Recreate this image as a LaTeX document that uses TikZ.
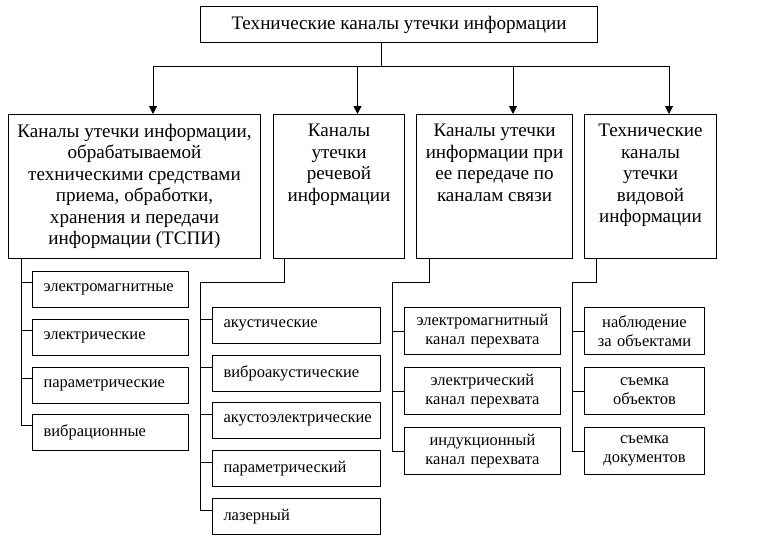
\documentclass[tikz,border=0pt]{standalone}
\usepackage{fontspec}
\setmainfont{Liberation Serif}
\usetikzlibrary{arrows.meta,calc}
\newcommand\bigf{\fontsize{19.1}{21.5}\selectfont}
\newcommand\smallf{\fontsize{16.5}{18.4}\selectfont}
\begin{document}
\begin{tikzpicture}[x=1pt,y=-1pt,
  ln/.style={line width=1pt},
  arr/.style={line width=1pt,-{Triangle[length=8pt,width=8pt]}},
  topbox/.style={draw,line width=1pt,anchor=north west,inner sep=0pt,font=\bigf,minimum width=397pt,minimum height=36pt},
  catbox/.style={draw,line width=1pt,anchor=north west,inner sep=0pt,minimum height=144pt,minimum width=#1},
  cattxt/.style={font=\bigf,align=center,inner sep=0pt,anchor=north},
  leafl/.style={draw,line width=1pt,anchor=north west,font=\smallf,align=left,inner xsep=11pt,inner ysep=0pt,text width=#1-22pt,minimum height=35.5pt},
  leafc/.style={draw,line width=1pt,anchor=north west,font=\smallf,align=center,inner xsep=2pt,inner ysep=0pt,text width=#1-4pt,minimum height=47pt}
]
\useasboundingbox (0,0) rectangle (766,539);

% top
\node[topbox] (top) at (200,6) {Технические каналы утечки информации};

% categories
\node[catbox=252pt] (b1) at (8,114) {};
\node[catbox=131pt] (b2) at (273,114) {};
\node[catbox=156pt] (b3) at (416,114) {};
\node[catbox=132pt] (b4) at (584,114) {};
\node[cattxt] (t1) at ([yshift=-10pt]b1.north) {Каналы утечки информации,\\ обрабатываемой\\ техническими средствами\\ приема, обработки,\\ хранения и передачи\\ информации (ТСПИ)};
\node[cattxt] (t2) at ([yshift=-10pt]b2.north) {Каналы\\ утечки\\ речевой\\ информации};
\node[cattxt] (t3) at ([yshift=-10pt]b3.north) {Каналы утечки\\ информации при\\ ее передаче по\\ каналам связи};
\node[cattxt] (t4) at ([yshift=-10pt]b4.north) {Технические\\ каналы\\ утечки\\ видовой\\ информации};

% top connectors
\coordinate (bus) at (381,66);
\draw[ln] ([xshift=181pt]top.south west) -- (bus);
\draw[arr] (bus) -| ([xshift=18.5pt]b1.north);
\draw[arr] (bus) -| ([xshift=18.5pt]b2.north);
\draw[arr] (bus) -| ([xshift=18.5pt]b3.north);
\draw[arr] (bus) -| ([xshift=18.5pt]b4.north);

% column 1
\node[leafl=156pt] (l11) at (32,271) {электромагнитные};
\node[leafl=156pt] (l12) at (32,319) {электрические};
\node[leafl=156pt] (l13) at (32,367) {параметрические};
\node[leafl=156pt] (l14) at (32,414) {вибрационные};
\foreach \n in {l11,l12,l13,l14}
  \draw[ln] ([xshift=13pt]b1.south west) |- ([yshift=-11.5pt]\n.north west);

% column 2
\node[leafl=168pt] (l21) at (212,307) {акустические};
\node[leafl=168pt] (l22) at (212,355) {виброакустические};
\node[leafl=168pt] (l23) at (212,402) {акустоэлектрические};
\node[leafl=168pt] (l24) at (212,450) {параметрический};
\node[leafl=168pt] (l25) at (212,498) {лазерный};
\coordinate (c2) at (200,282);
\draw[ln] ([xshift=11pt]b2.south west) |- (c2);
\foreach \n in {l21,l22,l23,l24,l25}
  \draw[ln] (c2) |- ([yshift=-12pt]\n.north west);

% column 3
\node[leafc=156pt] (l31) at (404,307) {электромагнитный\\канал перехвата};
\node[leafc=156pt] (l32) at (404,367) {электрический\\канал перехвата};
\node[leafc=156pt] (l33) at (404,427) {индукционный\\канал перехвата};
\coordinate (c3) at (392,282);
\draw[ln] ([xshift=13pt]b3.south west) |- (c3);
\foreach \n in {l31,l32,l33}
  \draw[ln] (c3) |- (\n.west);

% column 4
\node[leafc=120pt] (l41) at (584,307) {наблюдение\\за объектами};
\node[leafc=120pt] (l42) at (584,367) {съемка\\объектов};
\node[leafc=120pt] (l43) at (584,427) {съемка\\документов};
\coordinate (c4) at (572,282);
\draw[ln] ([xshift=12pt]b4.south west) |- (c4);
\foreach \n in {l41,l42,l43}
  \draw[ln] (c4) |- (\n.west);
\end{tikzpicture}
\end{document}
